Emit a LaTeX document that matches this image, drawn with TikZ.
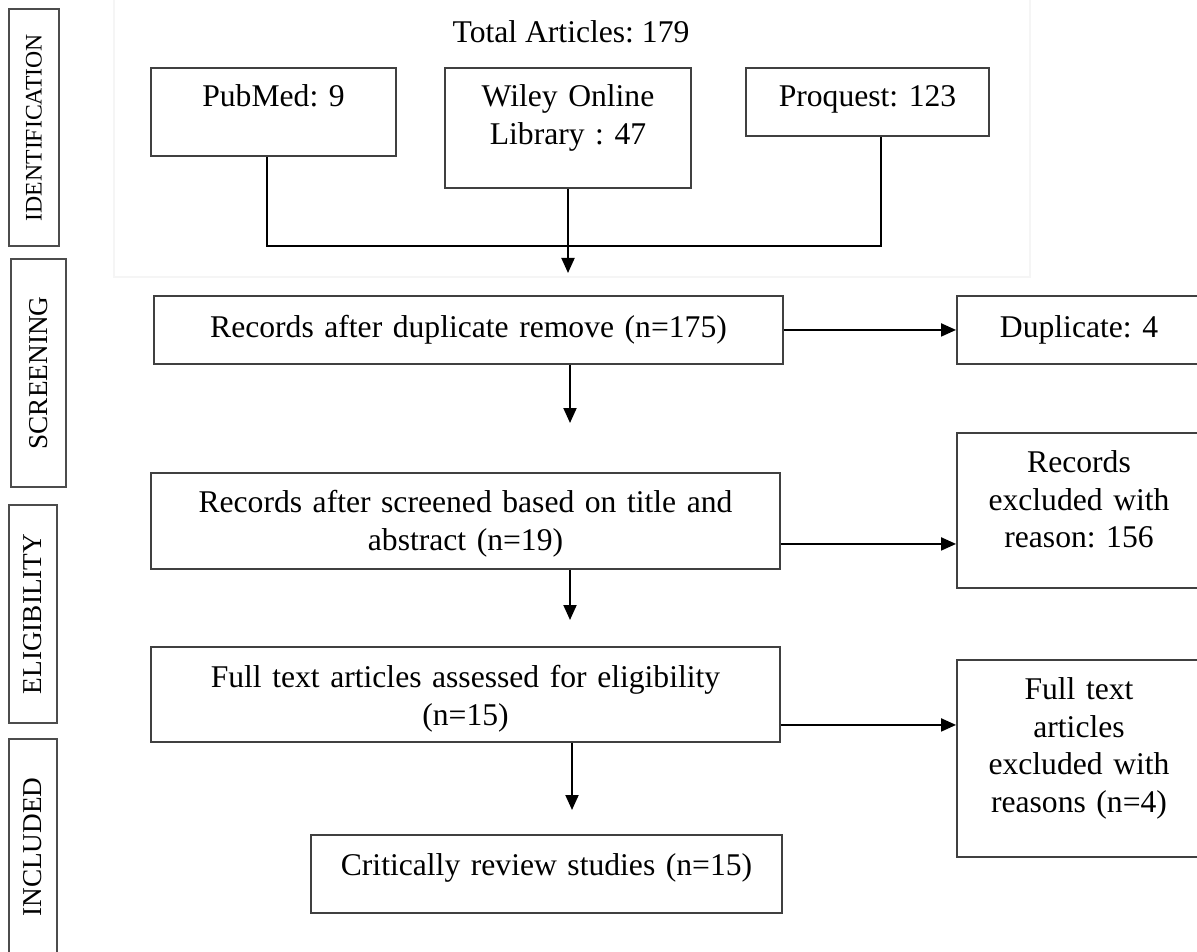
\documentclass[tikz,border=0pt]{standalone}
\usepackage{fontspec}
\setmainfont{Liberation Serif}
\usetikzlibrary{arrows.meta}
\frenchspacing

\tikzset{
    box/.style={draw=black!75, line width=1.1pt, inner sep=0pt, anchor=north, align=center,
        font=\fontsize{18}{21.3}\selectfont},
    tb/.style 2 args={text height=#1, text depth=#2},  % baseline from top, rest below
    stage/.style={draw=black!70, line width=1.1pt, inner sep=0pt, rotate=90,
        font=\fontsize{15.5}{18}\selectfont},
    link/.style={black, line width=1.1pt},
    arr/.style={link, -{Triangle[length=0.3cm, width=0.26cm]}},
}

\begin{document}
\begin{tikzpicture}[x=0.02cm, y=-0.02cm]  % one unit = one pixel, y going down
    \useasboundingbox (0,0) rectangle (1197,952);
    \clip (0,0) rectangle (1197,952);

    % faint frame behind the sources
    \draw[black!4, line width=0.6pt] (114,-10) rectangle (1030,277);

    % stages
    \node[stage, minimum width=4.74cm, minimum height=1.0cm] (ident) at (34,127.5)
        {\fontsize{13.5}{16}\selectfont IDENTIFICATION};
    \node[stage, minimum width=4.56cm, minimum height=1.1cm] (screen) at (38.5,373) {SCREENING};
    \node[stage, minimum width=4.36cm, minimum height=0.96cm] (elig) at (33,614) {ELIGIBILITY};
    \node[stage, minimum width=4.32cm, minimum height=0.96cm] (incl) at (33,847) {INCLUDED};

    % sources
    \node[font=\fontsize{18}{21.3}\selectfont] (total) at (571,32) {Total Articles: 179};
    \node[box, text width=4.9cm, tb={0.78cm}{0.98cm}] (pub) at (273.5,67) {PubMed: 9};
    \node[box, text width=4.92cm, tb={0.78cm}{1.62cm}] (wiley) at (568,67) {Wiley Online\\Library : 47};
    \node[box, text width=4.86cm, tb={0.78cm}{0.58cm}] (proq) at (867.5,67) {Proquest: 123};

    % main flow
    \node[box, text width=12.58cm, tb={0.84cm}{0.52cm}] (recdup) at (468.5,295)
        {Records after duplicate remove (n=175)};
    \node[box, text width=12.58cm, tb={0.80cm}{1.12cm}] (recscr) at (465.5,472)
        {Records after screened based on title and\\abstract (n=19)};
    \node[box, text width=12.58cm, tb={0.82cm}{1.08cm}] (full) at (465.5,646)
        {Full text articles assessed for eligibility\\(n=15)};
    \node[box, text width=9.42cm, tb={0.82cm}{0.74cm}] (crit) at (546.5,834)
        {Critically review studies (n=15)};

    % removed records
    \node[box, text width=4.88cm, tb={0.84cm}{0.52cm}] (dup) at (1079,295) {Duplicate: 4};
    \node[box, text width=4.88cm, tb={0.80cm}{2.30cm}] (recexcl) at (1079,432)
        {Records\\excluded with\\reason: 156};
    \node[box, text width=4.88cm, tb={0.80cm}{3.14cm}] (fullexcl) at (1079,659)
        {Full text\\articles\\excluded with\\reasons (n=4)};

    % arrow ends
    \coordinate (merge) at (568,246);
    \coordinate (tipA) at (568,273);
    \coordinate (tipB) at (570,423);
    \coordinate (tipC) at (570,620);
    \coordinate (tipD) at (572,810);
    \coordinate (exA) at ([yshift=-0.46cm]recscr.east);
    \coordinate (exB) at ([yshift=-0.61cm]full.east);

    \draw[link] ([xshift=-0.13cm]pub.south) |- (merge) -| ([xshift=0.27cm]proq.south);
    \draw[arr] (wiley.south) -- (tipA);
    \draw[arr] (recdup.south -| tipB) -- (tipB);
    \draw[arr] (recscr.south -| tipC) -- (tipC);
    \draw[arr] (full.south -| tipD) -- (tipD);
    \draw[arr] (recdup.east) -- (dup.west);
    \draw[arr] (exA) -- (exA -| recexcl.west);
    \draw[arr] (exB) -- (exB -| fullexcl.west);
\end{tikzpicture}
\end{document}
